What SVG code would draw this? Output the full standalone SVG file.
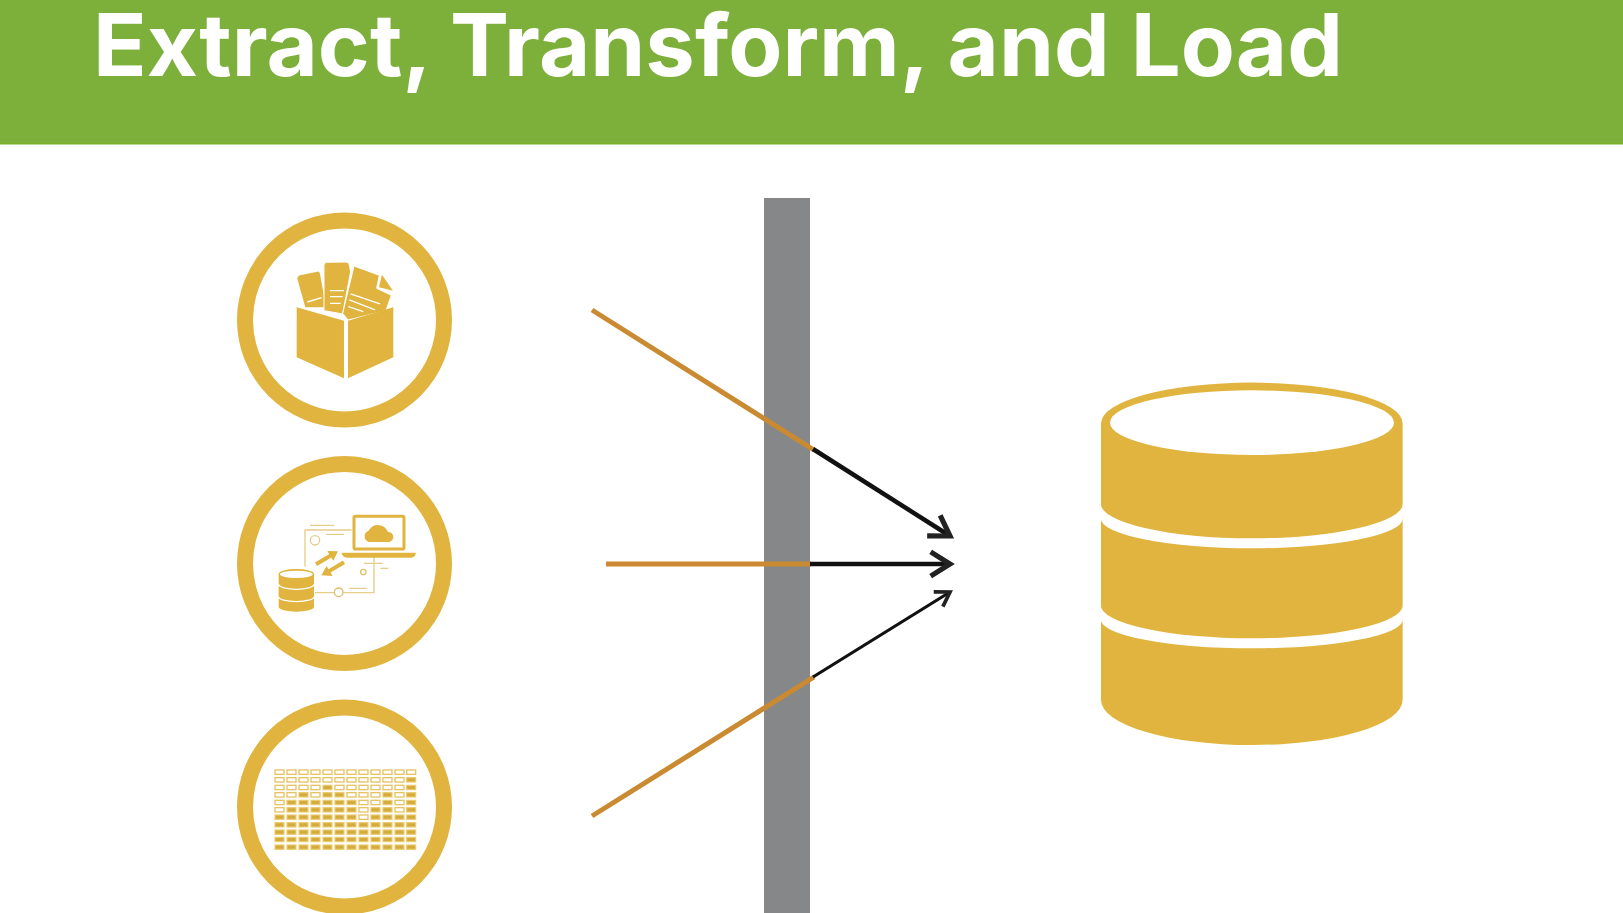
<svg xmlns="http://www.w3.org/2000/svg" width="1623" height="913" viewBox="0 0 1623 913">
<style>
.gold{fill:#E0B43E}
.ring{fill:#fff;stroke:#E0B43E;stroke-width:16}
.title{font-family:"Inter","Lato","Liberation Sans",sans-serif;font-weight:700;font-size:86px;fill:#fff}
.wl{stroke:#fff;fill:none;stroke-linecap:butt}
.f{fill:#D4AC3C;stroke:#EBCB70;stroke-width:3.500}
.o{fill:#fff;stroke:#E6C465;stroke-width:4}
.or{stroke:#CA8A32;fill:none;stroke-width:5}
.bk{stroke:#111;fill:none;marker-end:url(#head)}
</style>
<defs>
<marker id="head" viewBox="-6 -4 7 8" refX="0" refY="0" markerWidth="7" markerHeight="8" orient="auto" markerUnits="strokeWidth" overflow="visible">
<path d="M-4.300 -2.700 L0 0 L-4.300 2.700" fill="none" stroke="#222" stroke-width="1.150" stroke-linejoin="miter"/>
</marker>
</defs>
<rect width="1623" height="913" fill="#fff"/>
<g id="header">
<rect width="1623" height="144" fill="#7DAF3B"/>
<rect y="143" width="1623" height="1.5" fill="#78B02A"/>
<text class="title" x="93" y="76" textLength="1250" lengthAdjust="spacingAndGlyphs">Extract, Transform, and Load</text>
</g>
<g id="wall"><rect x="764" y="198" width="46" height="715" fill="#868789"/></g>
<g id="node-files">
<circle class="ring" cx="344.500" cy="320" r="99.500"/>
<g transform="translate(220 200) scale(.3333)">
<path class="gold" d="M232 236Q232 228 240 226L292 215Q298 214 300 222L318 322L256 322Z"/>
<path class="wl" stroke-width="4" d="M262 306L305 293"/>
<path class="gold" stroke="#fff" stroke-width="3" d="M312 196Q312 187 320 187L378 186Q388 186 388 196L392 215L368 342L312 332Z"/>
<path class="wl" stroke-width="4" d="M330 272H372M330 290H368M330 310H362"/>
<path class="gold" stroke="#fff" stroke-width="3" d="M402 198L478 226L470 265L514 286L498 332L384 360L368 340Z"/>
<path class="gold" d="M486 224L519 272L477 262Z"/>
<path class="wl" stroke-width="4" d="M392 282L480 312M388 300L465 330M385 320L430 335"/>
<path class="gold" d="M230 322L372 362V535L230 472Z"/>
<path class="gold" d="M384 362L520 322V472L384 535Z"/>
</g>
</g>
<g id="node-cloud">
<circle class="ring" cx="344.500" cy="563.500" r="99.500"/>
<g transform="translate(220 450) scale(.3333)">
<path fill="none" stroke="#E6CD8A" stroke-width="4" d="M255 350V240H395M365 312H450Q462 312 462 324V428H370M345 428H285M270 226H342M318 253H372M432 340H488M482 355H505M388 415H440"/>
<circle cx="285" cy="271" r="14" fill="#fff" stroke="#E6CD8A" stroke-width="4"/>
<circle cx="430" cy="366" r="8" fill="#fff" stroke="#E0C06A" stroke-width="4"/>
<circle cx="356" cy="427" r="13" fill="#fff" stroke="#E0C06A" stroke-width="4"/>
<rect x="402" y="199" width="150" height="98" rx="4" fill="#fff" stroke="#E0B43E" stroke-width="9"/>
<path class="gold" d="M446 276A18 18 0 0 1 446 242A32 32 0 0 1 504 246A15 15 0 0 1 506 276Z"/>
<path class="gold" d="M365 308H588Q586 323 570 323H384Q367 323 365 308Z"/>
<path fill="none" stroke="#E0B43E" stroke-width="12" d="M288 343L335 315M372 337L325 365"/>
<path class="gold" d="M354 304L322 303L340 332ZM304 376L338 378L320 348Z"/>
<path class="gold" d="M176 372A53 15 0 0 1 282 372V470A53 15 0 0 1 176 470Z"/>
<ellipse cx="229" cy="373" rx="49" ry="11" fill="#fff"/>
<path class="wl" stroke-width="4" d="M176 403A53 15 0 0 0 282 403M176 440A53 15 0 0 0 282 440"/>
</g>
</g>
<g id="node-table">
<circle class="ring" cx="344.500" cy="807" r="99.500"/>
<g transform="translate(220 690) scale(.3333)">
<g id="row1">
<rect class="o" x="165" y="240" width="27" height="13"/><rect class="o" x="201" y="240" width="27" height="13"/><rect class="o" x="237" y="240" width="27" height="13"/><rect class="o" x="273" y="240" width="27" height="13"/><rect class="o" x="309" y="240" width="27" height="13"/><rect class="o" x="345" y="240" width="27" height="13"/><rect class="o" x="381" y="240" width="27" height="13"/><rect class="o" x="417" y="240" width="27" height="13"/><rect class="o" x="453" y="240" width="27" height="13"/><rect class="o" x="489" y="240" width="27" height="13"/><rect class="o" x="525" y="240" width="27" height="13"/><rect class="o" x="560" y="240" width="27" height="13"/>
</g>
<g id="row2">
<rect class="o" x="165" y="263" width="27" height="13"/><rect class="o" x="201" y="263" width="27" height="13"/><rect class="o" x="237" y="263" width="27" height="13"/><rect class="o" x="273" y="263" width="27" height="13"/><rect class="o" x="309" y="263" width="27" height="13"/><rect class="o" x="345" y="263" width="27" height="13"/><rect class="o" x="381" y="263" width="27" height="13"/><rect class="o" x="417" y="263" width="27" height="13"/><rect class="o" x="453" y="263" width="27" height="13"/><rect class="o" x="489" y="263" width="27" height="13"/><rect class="o" x="525" y="263" width="27" height="13"/><rect class="f" x="560" y="263" width="27" height="13"/>
</g>
<g id="row3">
<rect class="o" x="165" y="286" width="27" height="13"/><rect class="o" x="201" y="286" width="27" height="13"/><rect class="o" x="237" y="286" width="27" height="13"/><rect class="o" x="273" y="286" width="27" height="13"/><rect class="f" x="309" y="286" width="27" height="13"/><rect class="o" x="345" y="286" width="27" height="13"/><rect class="o" x="381" y="286" width="27" height="13"/><rect class="o" x="417" y="286" width="27" height="13"/><rect class="o" x="453" y="286" width="27" height="13"/><rect class="o" x="489" y="286" width="27" height="13"/><rect class="o" x="525" y="286" width="27" height="13"/><rect class="f" x="560" y="286" width="27" height="13"/>
</g>
<g id="row4">
<rect class="o" x="165" y="308" width="27" height="13"/><rect class="o" x="201" y="308" width="27" height="13"/><rect class="f" x="237" y="308" width="27" height="13"/><rect class="o" x="273" y="308" width="27" height="13"/><rect class="f" x="309" y="308" width="27" height="13"/><rect class="f" x="345" y="308" width="27" height="13"/><rect class="o" x="381" y="308" width="27" height="13"/><rect class="o" x="417" y="308" width="27" height="13"/><rect class="o" x="453" y="308" width="27" height="13"/><rect class="f" x="489" y="308" width="27" height="13"/><rect class="o" x="525" y="308" width="27" height="13"/><rect class="f" x="560" y="308" width="27" height="13"/>
</g>
<g id="row5">
<rect class="o" x="165" y="331" width="27" height="13"/><rect class="f" x="201" y="331" width="27" height="13"/><rect class="f" x="237" y="331" width="27" height="13"/><rect class="f" x="273" y="331" width="27" height="13"/><rect class="f" x="309" y="331" width="27" height="13"/><rect class="f" x="345" y="331" width="27" height="13"/><rect class="f" x="381" y="331" width="27" height="13"/><rect class="o" x="417" y="331" width="27" height="13"/><rect class="o" x="453" y="331" width="27" height="13"/><rect class="f" x="489" y="331" width="27" height="13"/><rect class="o" x="525" y="331" width="27" height="13"/><rect class="f" x="560" y="331" width="27" height="13"/>
</g>
<g id="row6">
<rect class="o" x="165" y="353" width="27" height="13"/><rect class="f" x="201" y="353" width="27" height="13"/><rect class="f" x="237" y="353" width="27" height="13"/><rect class="f" x="273" y="353" width="27" height="13"/><rect class="f" x="309" y="353" width="27" height="13"/><rect class="f" x="345" y="353" width="27" height="13"/><rect class="f" x="381" y="353" width="27" height="13"/><rect class="o" x="417" y="353" width="27" height="13"/><rect class="f" x="453" y="353" width="27" height="13"/><rect class="f" x="489" y="353" width="27" height="13"/><rect class="o" x="525" y="353" width="27" height="13"/><rect class="f" x="560" y="353" width="27" height="13"/>
</g>
<g id="row7">
<rect class="f" x="165" y="375" width="27" height="13"/><rect class="f" x="201" y="375" width="27" height="13"/><rect class="f" x="237" y="375" width="27" height="13"/><rect class="f" x="273" y="375" width="27" height="13"/><rect class="f" x="309" y="375" width="27" height="13"/><rect class="f" x="345" y="375" width="27" height="13"/><rect class="f" x="381" y="375" width="27" height="13"/><rect class="o" x="417" y="375" width="27" height="13"/><rect class="f" x="453" y="375" width="27" height="13"/><rect class="f" x="489" y="375" width="27" height="13"/><rect class="f" x="525" y="375" width="27" height="13"/><rect class="f" x="560" y="375" width="27" height="13"/>
</g>
<g id="row8">
<rect class="f" x="165" y="398" width="27" height="13"/><rect class="f" x="201" y="398" width="27" height="13"/><rect class="f" x="237" y="398" width="27" height="13"/><rect class="f" x="273" y="398" width="27" height="13"/><rect class="f" x="309" y="398" width="27" height="13"/><rect class="f" x="345" y="398" width="27" height="13"/><rect class="f" x="381" y="398" width="27" height="13"/><rect class="f" x="417" y="398" width="27" height="13"/><rect class="f" x="453" y="398" width="27" height="13"/><rect class="f" x="489" y="398" width="27" height="13"/><rect class="f" x="525" y="398" width="27" height="13"/><rect class="f" x="560" y="398" width="27" height="13"/>
</g>
<g id="row9">
<rect class="f" x="165" y="420" width="27" height="13"/><rect class="f" x="201" y="420" width="27" height="13"/><rect class="f" x="237" y="420" width="27" height="13"/><rect class="f" x="273" y="420" width="27" height="13"/><rect class="f" x="309" y="420" width="27" height="13"/><rect class="f" x="345" y="420" width="27" height="13"/><rect class="f" x="381" y="420" width="27" height="13"/><rect class="f" x="417" y="420" width="27" height="13"/><rect class="f" x="453" y="420" width="27" height="13"/><rect class="f" x="489" y="420" width="27" height="13"/><rect class="f" x="525" y="420" width="27" height="13"/><rect class="f" x="560" y="420" width="27" height="13"/>
</g>
<g id="row10">
<rect class="f" x="165" y="442" width="27" height="13"/><rect class="f" x="201" y="442" width="27" height="13"/><rect class="f" x="237" y="442" width="27" height="13"/><rect class="f" x="273" y="442" width="27" height="13"/><rect class="f" x="309" y="442" width="27" height="13"/><rect class="f" x="345" y="442" width="27" height="13"/><rect class="f" x="381" y="442" width="27" height="13"/><rect class="f" x="417" y="442" width="27" height="13"/><rect class="f" x="453" y="442" width="27" height="13"/><rect class="f" x="489" y="442" width="27" height="13"/><rect class="f" x="525" y="442" width="27" height="13"/><rect class="f" x="560" y="442" width="27" height="13"/>
</g>
<g id="row11">
<rect class="f" x="165" y="465" width="27" height="13"/><rect class="f" x="201" y="465" width="27" height="13"/><rect class="f" x="237" y="465" width="27" height="13"/><rect class="f" x="273" y="465" width="27" height="13"/><rect class="f" x="309" y="465" width="27" height="13"/><rect class="f" x="345" y="465" width="27" height="13"/><rect class="f" x="381" y="465" width="27" height="13"/><rect class="f" x="417" y="465" width="27" height="13"/><rect class="f" x="453" y="465" width="27" height="13"/><rect class="f" x="489" y="465" width="27" height="13"/><rect class="f" x="525" y="465" width="27" height="13"/><rect class="f" x="560" y="465" width="27" height="13"/>
</g>
</g>
</g>
<g id="connectors">
<line class="or" x1="592" y1="310" x2="814" y2="450"/>
<line class="bk" stroke-width="4.500" x1="813" y1="449" x2="950" y2="536"/>
<line class="or" x1="606" y1="564" x2="811" y2="564"/>
<line class="bk" stroke-width="4.500" x1="810" y1="564" x2="950" y2="564"/>
<line class="or" x1="592" y1="816" x2="814" y2="677"/>
<line class="bk" stroke-width="3.200" x1="813" y1="677" x2="950" y2="592"/>
</g>
<g id="node-database">
<g transform="translate(1080 370) scale(.3333)">
<path class="gold" d="M63 160A452 122 0 0 1 968 160V990A452 135 0 0 1 63 990Z"/>
<ellipse cx="516" cy="158" rx="426" ry="97" fill="#fff"/>
<path fill="#fff" d="M62 400A453 105 0 0 0 969 400V445A453 90 0 0 1 62 445Z"/>
<path fill="#fff" d="M62 705A453 100 0 0 0 969 705V748A453 87 0 0 1 62 748Z"/>
</g>
</g>
</svg>
